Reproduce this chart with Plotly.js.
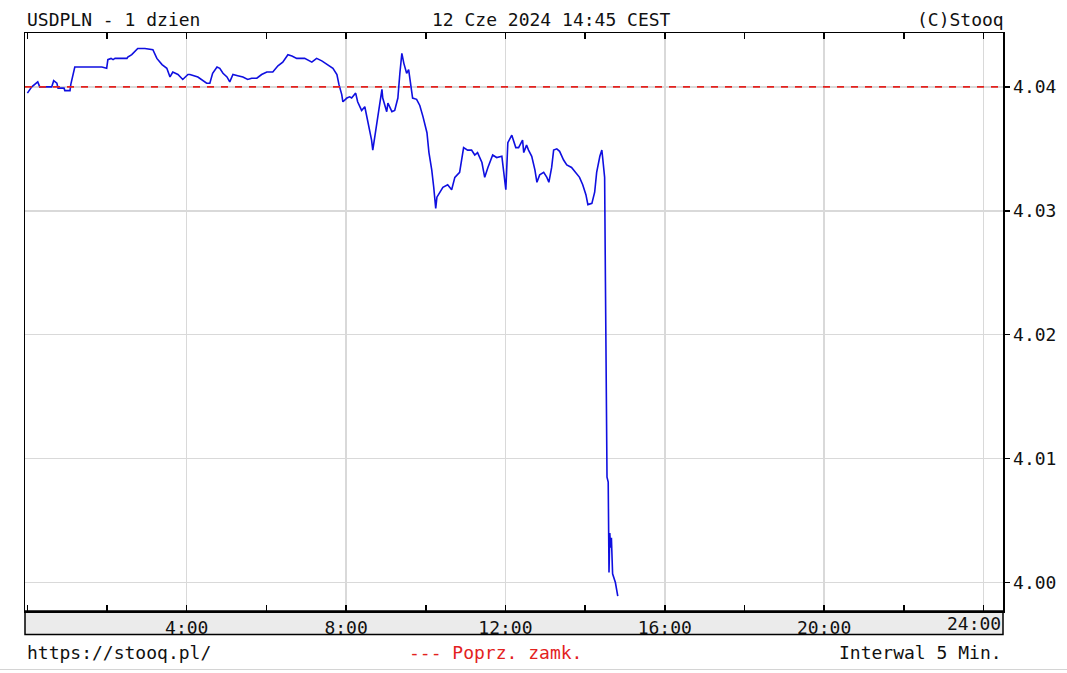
<!DOCTYPE html>
<html><head><meta charset="utf-8">
<script src="https://cdn.plot.ly/plotly-3.0.1.min.js"></script>
<style>html,body{margin:0;padding:0;background:#fff;overflow:hidden}#chart{width:1067px;height:673px}</style>
</head><body><div id="chart"></div>
<script>
// time of day in hours (5-minute quotes)
const times = [
0.00,0.11,0.26,0.31,0.61,0.66,0.74,0.77,0.92,0.94,1.07,1.09,1.19,1.24,1.87,1.99,2.02,2.10,2.15,2.20,
2.50,2.52,2.62,2.77,2.95,3.15,3.25,3.38,3.50,3.58,3.65,3.78,3.90,4.03,4.08,4.28,4.38,4.50,4.58,4.65,
4.76,4.83,4.91,5.01,5.08,5.16,5.28,5.41,5.53,5.63,5.76,5.88,6.01,6.16,6.29,6.41,6.54,6.64,6.76,6.96,
7.14,7.26,7.39,7.54,7.67,7.77,7.82,7.89,7.92,8.02,8.09,8.14,8.24,8.29,8.39,8.47,8.54,8.64,8.67,8.72,
8.80,8.90,8.92,9.02,9.05,9.15,9.22,9.30,9.35,9.40,9.45,9.52,9.57,9.62,9.67,9.77,9.85,9.93,10.03,10.08,
10.15,10.20,10.25,10.28,10.35,10.43,10.55,10.65,10.73,10.85,10.95,11.05,11.15,11.23,11.30,11.41,11.48,11.56,11.68,11.78,
11.91,11.98,12.01,12.06,12.16,12.18,12.26,12.33,12.43,12.46,12.53,12.58,12.66,12.74,12.79,12.86,12.96,13.04,13.09,13.16,
13.21,13.29,13.36,13.46,13.54,13.66,13.76,13.86,13.94,14.02,14.07,14.17,14.24,14.29,14.37,14.42,14.44,14.49,14.51,14.55,
14.58,14.60,14.62,14.64,14.66,14.69,14.76,14.82
];
const prices = [
4.0395,4.0400,4.0404,4.0400,4.0400,4.0405,4.0403,4.0399,4.0399,4.0397,4.0397,4.0402,4.0416,4.0416,4.0416,4.0415,4.0422,4.0423,4.0422,4.0423,
4.0423,4.0424,4.0426,4.0431,4.0431,4.0430,4.0423,4.0418,4.0415,4.0408,4.0412,4.0410,4.0406,4.0410,4.0410,4.0408,4.0406,4.0403,4.0403,4.0411,
4.0416,4.0415,4.0411,4.0408,4.0404,4.0410,4.0409,4.0408,4.0406,4.0407,4.0407,4.0410,4.0412,4.0412,4.0417,4.0420,4.0426,4.0425,4.0423,4.0423,
4.0420,4.0423,4.0421,4.0418,4.0415,4.0410,4.0402,4.0394,4.0388,4.0391,4.0392,4.0391,4.0395,4.0388,4.0381,4.0384,4.0373,4.0357,4.0349,4.0360,
4.0380,4.0398,4.0391,4.0380,4.0387,4.0380,4.0381,4.0391,4.0411,4.0427,4.0419,4.0411,4.0414,4.0403,4.0391,4.0390,4.0385,4.0376,4.0363,4.0347,
4.0333,4.0319,4.0302,4.0311,4.0315,4.0319,4.0321,4.0317,4.0327,4.0331,4.0351,4.0349,4.0349,4.0345,4.0347,4.0339,4.0327,4.0335,4.0345,4.0343,
4.0344,4.0325,4.0317,4.0355,4.0361,4.0359,4.0351,4.0351,4.0357,4.0347,4.0353,4.0349,4.0344,4.0333,4.0323,4.0329,4.0331,4.0327,4.0323,4.0335,
4.0349,4.0350,4.0348,4.0341,4.0337,4.0335,4.0331,4.0327,4.0321,4.0313,4.0305,4.0306,4.0315,4.0331,4.0344,4.0349,4.0343,4.0327,4.0243,4.0085,
4.0081,4.0008,4.0040,4.0028,4.0036,4.0007,4.0000,3.9989
];
const prevClose = 4.04;
const hourTicks = [4, 8, 12, 16, 20, 24];
const hourLabels = ['4:00', '8:00', '12:00', '16:00', '20:00', ''];
const lastHourLabel = '24:00';
const priceTicks = [4.00, 4.01, 4.02, 4.03, 4.04];

const FONT = 'DejaVu Sans Mono, monospace';
const FS = 18;
const W = 1067, H = 673, ML = 25, MR = 64, MT = 33, MB = 62;
const PW = W - ML - MR, PH = H - MT - MB;
const px = x => (x - ML) / PW;
const py = y => (H - MB - y) / PH;

const trace = {
  x: times, y: prices, type: 'scatter', mode: 'lines',
  line: {color: '#0f0fe0', width: 1.6},
  hoverinfo: 'skip', showlegend: false
};

const layout = {
  width: W, height: H,
  margin: {l: ML, r: MR, t: MT, b: MB, pad: 0},
  paper_bgcolor: '#ffffff', plot_bgcolor: '#ffffff',
  showlegend: false,
  font: {family: FONT, size: FS, color: '#111'},
  xaxis: {
    range: [-0.06, 24.49],
    tickmode: 'array', tickvals: hourTicks, ticktext: hourLabels,
    ticks: 'inside', ticklen: 6, tickwidth: 1.5, tickcolor: '#000',
    minor: {dtick: 2, tick0: 0, ticks: 'inside', ticklen: 6, tickwidth: 1.5, tickcolor: '#000', showgrid: false},
    showline: true, linecolor: '#000', linewidth: 1.5, mirror: 'allticks',
    showgrid: true, gridcolor: '#d9d9d9', gridwidth: 1.5,
    zeroline: false, fixedrange: true,
    tickfont: {family: FONT, size: FS, color: '#111'}
  },
  yaxis: {
    side: 'right',
    range: [3.9977, 4.04435],
    tickmode: 'array', tickvals: priceTicks, tickformat: '.2f',
    ticks: 'outside', ticklen: 5, tickwidth: 1.5, tickcolor: '#000',
    showline: true, linecolor: '#000', linewidth: 1.5, mirror: true,
    showgrid: true, gridcolor: '#d9d9d9', gridwidth: 1.5,
    zeroline: false, fixedrange: true,
    tickfont: {family: FONT, size: FS, color: '#111'}
  },
  yaxis2: {
    overlaying: 'y', side: 'left',
    range: [3.9977, 4.04435],
    tickmode: 'array', tickvals: priceTicks,
    ticks: 'inside', ticklen: 5, tickwidth: 1.5, tickcolor: '#000',
    showticklabels: false, showgrid: false, showline: false, zeroline: false, fixedrange: true
  },
  shapes: [
    {type: 'rect', xref: 'paper', yref: 'paper', x0: 0, x1: 1, y0: -23.5 / PH, y1: 0,
     fillcolor: '#ebebeb', line: {color: '#000', width: 1.5}, layer: 'below'},
    {type: 'line', xref: 'paper', yref: 'y', x0: 0, x1: 1, y0: prevClose, y1: prevClose,
     line: {color: '#e3221e', width: 1.6, dash: '7px,7px'}, layer: 'above'},
    {type: 'line', xref: 'paper', yref: 'paper', x0: px(0), x1: px(W), y0: py(669.5), y1: py(669.5),
     line: {color: '#d4d4d4', width: 1}}
  ],
  annotations: [
    {text: 'USDPLN - 1 dzien', xref: 'paper', yref: 'paper', x: 0, y: py(19), xanchor: 'left', yanchor: 'middle', showarrow: false, font: {family: FONT, size: FS, color: '#111'}},
    {text: '12 Cze 2024 14:45 CEST', xref: 'paper', yref: 'paper', x: px(551.5), y: py(19), xanchor: 'center', yanchor: 'middle', showarrow: false, font: {family: FONT, size: FS, color: '#111'}},
    {text: '(C)Stooq', xref: 'paper', yref: 'paper', x: px(1006), y: py(19), xanchor: 'right', yanchor: 'middle', showarrow: false, font: {family: FONT, size: FS, color: '#111'}},
    {text: lastHourLabel, xref: 'paper', yref: 'paper', x: 1, y: py(623.5), xanchor: 'right', yanchor: 'middle', showarrow: false, font: {family: FONT, size: FS, color: '#111'}},
    {text: 'https://stooq.pl/', xref: 'paper', yref: 'paper', x: 0, y: py(652), xanchor: 'left', yanchor: 'middle', showarrow: false, font: {family: FONT, size: FS, color: '#111'}},
    {text: '--- Poprz. zamk.', xref: 'paper', yref: 'paper', x: px(495), y: py(652), xanchor: 'center', yanchor: 'middle', showarrow: false, font: {family: FONT, size: FS, color: '#e3221e'}},
    {text: 'Interwal 5 Min.', xref: 'paper', yref: 'paper', x: px(1004), y: py(652), xanchor: 'right', yanchor: 'middle', showarrow: false, font: {family: FONT, size: FS, color: '#111'}}
  ]
};

Plotly.newPlot('chart', [trace], layout, {staticPlot: true, displayModeBar: false});
</script>
</body></html>
